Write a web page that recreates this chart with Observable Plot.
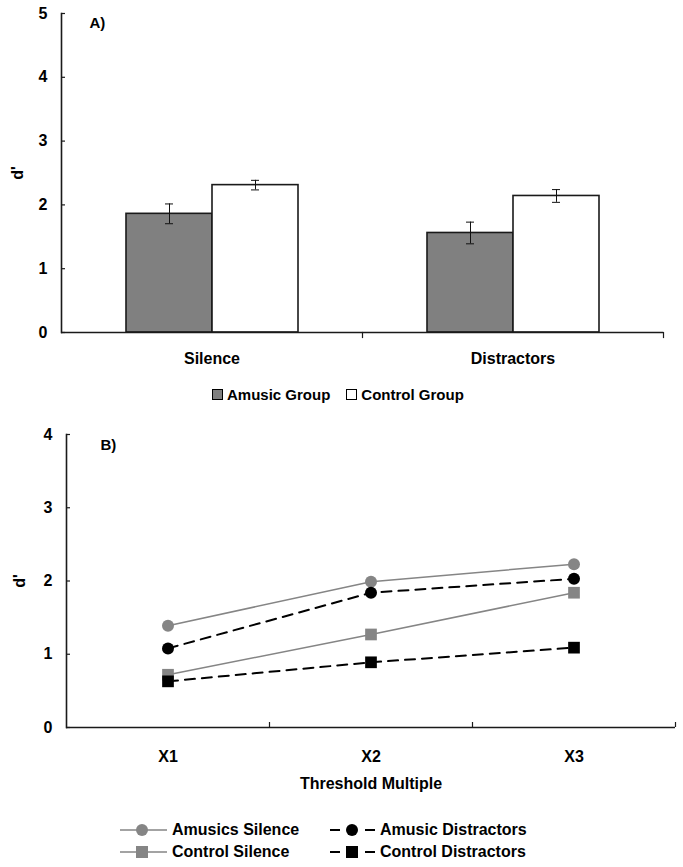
<!DOCTYPE html>
<html><head><meta charset="utf-8">
<script src="https://cdn.jsdelivr.net/npm/d3@7"></script>
<script src="https://cdn.jsdelivr.net/npm/@observablehq/plot@0.6"></script>
<style>
body{margin:0;background:#fff;font-family:"Liberation Sans",Arial,sans-serif;}
#root{position:relative;width:683px;height:867px;overflow:hidden;}
.panel{position:absolute;left:0;}
.legA{position:absolute;left:212px;top:386px;display:flex;align-items:center;font-weight:bold;font-size:15px;color:#000;white-space:nowrap;}
.legA .sw{width:11px;height:11px;border:1px solid #000;box-sizing:border-box;margin-right:4px;}
.legA .item{display:flex;align-items:center;margin-right:16px;}
.legB{position:absolute;font-weight:bold;font-size:16px;color:#000;white-space:nowrap;display:flex;align-items:center;height:20px;}
.legB svg{margin-right:4px;}
</style></head><body><div id="root"></div>
<script>
// ---------- Panel A data ----------
const conditions = ["Silence", "Distractors"];
const groups = ["Amusic Group", "Control Group"];
const amusicMeans = [1.86, 1.56];
const controlMeans = [2.31, 2.14];
const amusicErr = [0.155, 0.17];
const controlErr = [0.075, 0.10];
const yTicksA = [0, 1, 2, 3, 4, 5];

// ---------- Panel B data ----------
const multiples = ["X1", "X2", "X3"];
const seriesNames = ["Amusics Silence", "Control Silence", "Amusic Distractors", "Control Distractors"];
const amusicsSilence = [1.39, 1.99, 2.23];
const controlSilence = [0.72, 1.27, 1.84];
const amusicDistractors = [1.08, 1.84, 2.03];
const controlDistractors = [0.63, 0.89, 1.09];
const yTicksB = [0, 1, 2, 3, 4];

const FONT = "'Liberation Sans', Arial, sans-serif";
const AX = "#1a1a1a";
const root = document.getElementById("root");

// ----- Panel A -----
const barData = conditions.flatMap((c, i) => [
  {condition: c, group: groups[0], value: amusicMeans[i], err: amusicErr[i]},
  {condition: c, group: groups[1], value: controlMeans[i], err: controlErr[i]}
]);
const WA = 683, HA = 375, mlA = 61, mrA = 20, mtA = 13, mbA = 43;
const innerHA = HA - mtA - mbA;
const facetWA = (WA - mlA - mrA) / conditions.length;
const plotA = Plot.plot({
  width: WA, height: HA, marginLeft: mlA, marginRight: mrA, marginTop: mtA, marginBottom: mbA,
  style: {fontFamily: FONT, fontWeight: "bold", color: "#000", background: "transparent", overflow: "visible"},
  fx: {domain: conditions, padding: 0, label: null},
  x: {domain: groups, paddingInner: 0, paddingOuter: 0.74, axis: null},
  y: {domain: [0, 5], label: null},
  color: {domain: groups, range: ["#808080", "#ffffff"]},
  marks: [
    Plot.barY(barData, {fx: "condition", x: "group", y: "value", fill: "group", stroke: AX, strokeWidth: 1.6}),
    Plot.ruleX(barData, {fx: "condition", x: "group", y1: d => d.value - d.err, y2: d => d.value + d.err, stroke: "#111", strokeWidth: 1}),
    Plot.tickY(barData, {fx: "condition", x: "group", y: d => d.value - d.err, insetLeft: 39, insetRight: 39, stroke: "#111", strokeWidth: 1}),
    Plot.tickY(barData, {fx: "condition", x: "group", y: d => d.value + d.err, insetLeft: 39, insetRight: 39, stroke: "#111", strokeWidth: 1}),
    Plot.ruleY([0], {stroke: AX, strokeWidth: 1.6}),
    Plot.frame({anchor: "left", facetAnchor: "left", stroke: AX, strokeWidth: 1.6}),
    Plot.ruleY(yTicksA, {y: d => d, facetAnchor: "left", insetRight: facetWA - 4, stroke: AX, strokeWidth: 1.2}),
    Plot.frame({anchor: "right", insetTop: innerHA, insetBottom: -5, stroke: AX, strokeWidth: 1.2}),
    Plot.axisY({ticks: yTicksA, tickFormat: d => String(d), tickSize: 0, tickPadding: 14, fontSize: 16, fontWeight: "bold",
      label: "d'", labelAnchor: "center", labelOffset: 50, labelArrow: "none"}),
    Plot.axisFx({anchor: "bottom", tickSize: 0, tickPadding: 20, fontSize: 16, fontWeight: "bold", label: null}),
    Plot.text([{condition: conditions[0], label: "A)"}], {fx: "condition", text: "label", frameAnchor: "top-left",
      dx: 28, dy: 10, textAnchor: "start", lineAnchor: "middle", fontSize: 15, fontWeight: "bold"})
  ]
});
plotA.classList.add("panel");
plotA.style.top = "0px";
root.appendChild(plotA);

// Legend A
const legA = document.createElement("div");
legA.className = "legA";
legA.innerHTML = groups.map((g, i) =>
  `<div class="item"><div class="sw" style="background:${["#808080", "#ffffff"][i]}"></div>${g}</div>`).join("");
root.appendChild(legA);

// ----- Panel B -----
const seriesValues = [amusicsSilence, controlSilence, amusicDistractors, controlDistractors];
const seriesStyle = [
  {color: "#858585", width: 1.5, dash: null, symbol: "circle", r: 6},
  {color: "#858585", width: 1.5, dash: null, symbol: "square", r: 6.6},
  {color: "#000000", width: 2, dash: "10,7", symbol: "circle", r: 6},
  {color: "#000000", width: 2, dash: "10,7", symbol: "square", r: 6.6}
];
const WB = 683, HB = 375, mlB = 66, mrB = 8, mtB = 14, mbB = 68;
const innerWB = WB - mlB - mrB;
const bwB = innerWB / multiples.length;
const seriesData = seriesNames.map((name, k) => multiples.map((m, i) => ({series: name, multiple: m, value: seriesValues[k][i]})));
const plotB = Plot.plot({
  width: WB, height: HB, marginLeft: mlB, marginRight: mrB, marginTop: mtB, marginBottom: mbB,
  style: {fontFamily: FONT, fontWeight: "bold", color: "#000", background: "transparent", overflow: "visible"},
  x: {type: "band", domain: multiples, padding: 0},
  y: {domain: [0, 4]},
  marks: [
    Plot.ruleY([0], {stroke: AX, strokeWidth: 1.6}),
    Plot.frame({anchor: "left", stroke: AX, strokeWidth: 1.6}),
    Plot.ruleY(yTicksB, {y: d => d, insetRight: innerWB - 4, stroke: AX, strokeWidth: 1.2}),
    Plot.ruleX(multiples, {x: d => d, dx: bwB / 2, y1: 0, y2: 0, insetTop: -5, stroke: AX, strokeWidth: 1.2}),
    ...seriesData.map((d, k) => Plot.line(d, {x: "multiple", y: "value", stroke: seriesStyle[k].color,
      strokeWidth: seriesStyle[k].width, strokeDasharray: seriesStyle[k].dash})),
    ...seriesData.map((d, k) => Plot.dot(d, {x: "multiple", y: "value", symbol: seriesStyle[k].symbol,
      r: seriesStyle[k].r, fill: seriesStyle[k].color, stroke: "none"})),
    Plot.axisY({ticks: yTicksB, tickFormat: d => String(d), tickSize: 0, tickPadding: 14, fontSize: 16, fontWeight: "bold",
      label: "d'", labelAnchor: "center", labelOffset: 53, labelArrow: "none"}),
    Plot.axisX({tickSize: 0, tickPadding: 23, fontSize: 16, fontWeight: "bold", label: null}),
    Plot.axisX({tickSize: 0, ticks: [], fontSize: 16, fontWeight: "bold",
      label: "Threshold Multiple", labelAnchor: "center", labelOffset: 61, labelArrow: "none"}),
    Plot.text(["B)"], {frameAnchor: "top-left", dx: 34, dy: 11, textAnchor: "start", lineAnchor: "middle", fontSize: 15, fontWeight: "bold"})
  ]
});
plotB.classList.add("panel");
plotB.style.top = "420px";
root.appendChild(plotB);

// Legend B
const legPos = [[120, 820], [120, 842], [330, 820], [330, 842]];
seriesNames.forEach((name, k) => {
  const s = seriesStyle[k];
  const div = document.createElement("div");
  div.className = "legB";
  div.style.left = legPos[k][0] + "px";
  div.style.top = legPos[k][1] + "px";
  const mark = s.symbol === "circle"
    ? `<circle cx="22" cy="10" r="6" fill="${s.color}"/>`
    : `<rect x="16" y="4" width="12" height="12" fill="${s.color}"/>`;
  const line = s.dash
    ? `<line x1="0" y1="10" x2="10" y2="10" stroke="${s.color}" stroke-width="2"/><line x1="35" y1="10" x2="45" y2="10" stroke="${s.color}" stroke-width="2"/>`
    : `<line x1="0" y1="10" x2="47" y2="10" stroke="${s.color}" stroke-width="1.5"/>`;
  div.innerHTML = `<svg width="${s.dash ? 46 : 48}" height="20">${line}${mark}</svg><span>${name}</span>`;
  root.appendChild(div);
});
</script>
</body></html>
